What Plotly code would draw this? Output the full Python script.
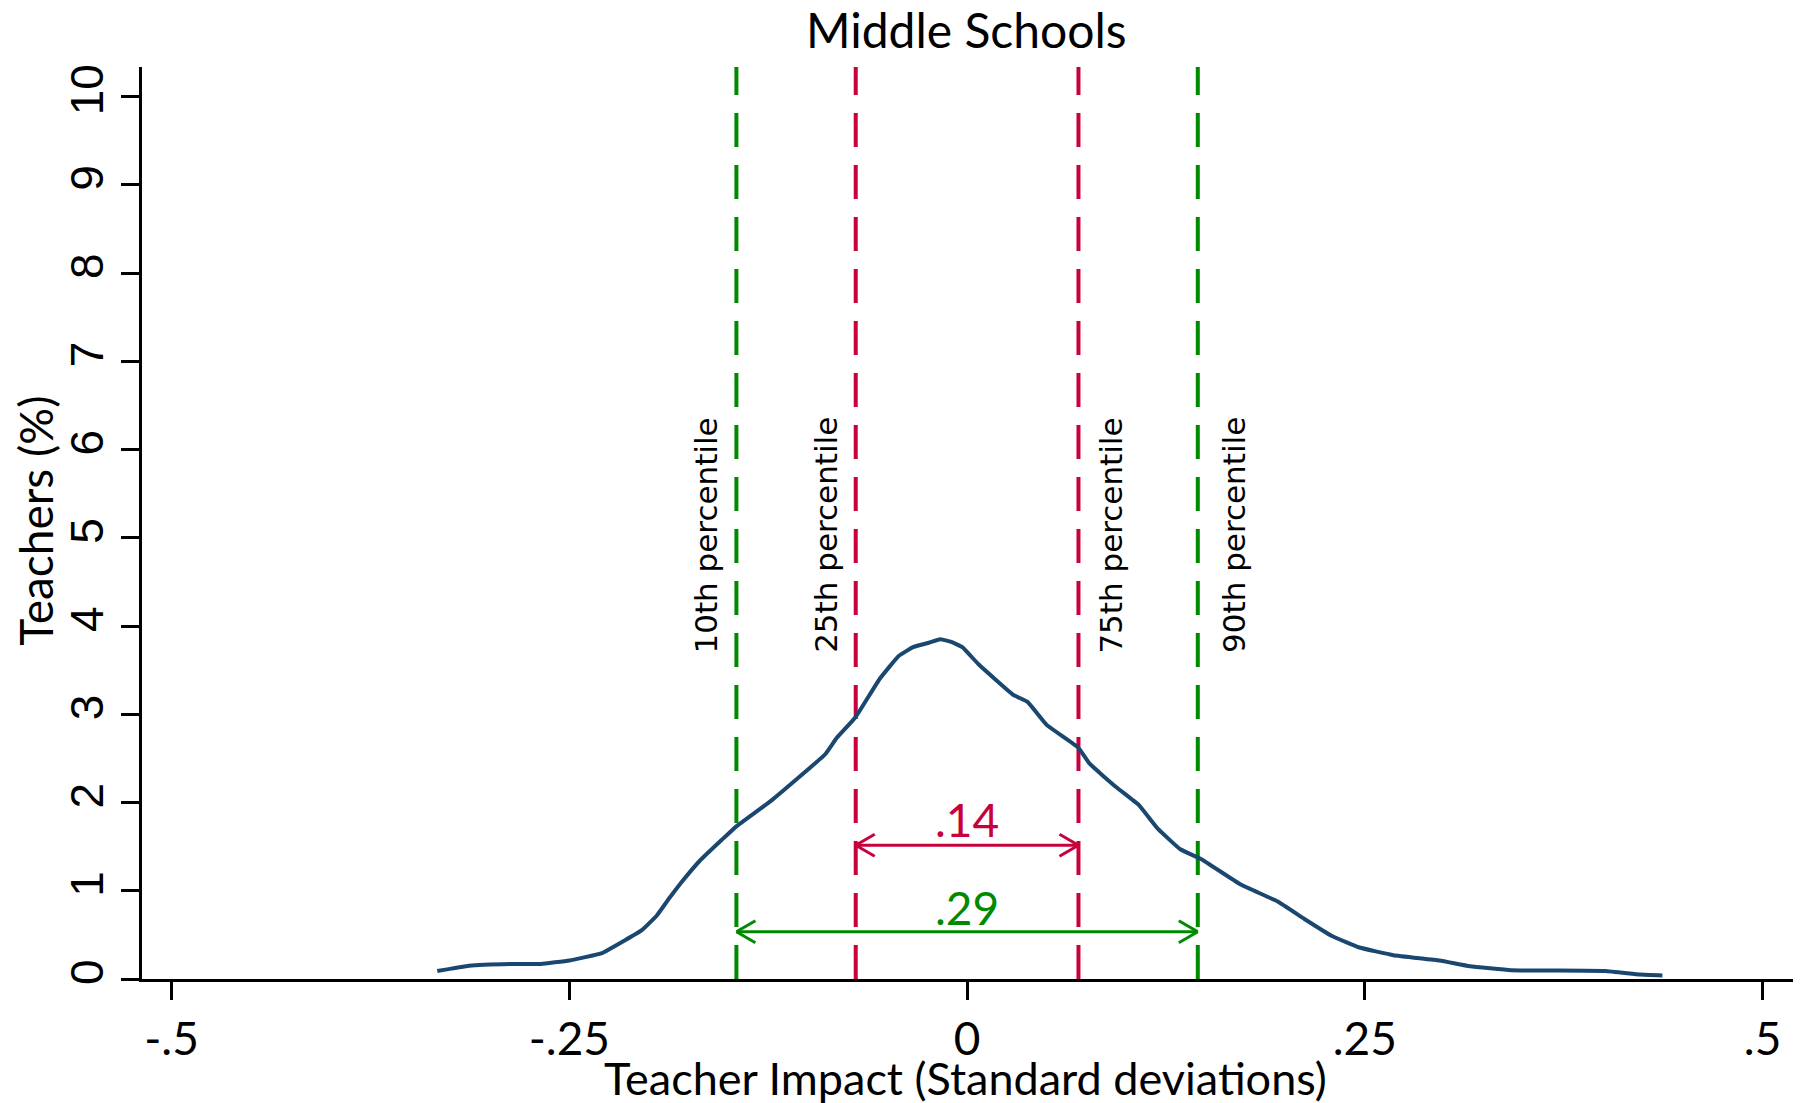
import plotly.graph_objects as go

# Kernel density of teacher impact (percent of teachers)
impact = [-0.333, -0.313, -0.285, -0.268, -0.250, -0.230, -0.215, -0.204, -0.195, -0.187,
          -0.178, -0.168, -0.154, -0.145, -0.1225, -0.089, -0.082, -0.070, -0.055, -0.043,
          -0.034, -0.024, -0.017, -0.010, -0.003, 0.007, 0.029, 0.038, 0.050, 0.070,
          0.077, 0.094, 0.108, 0.120, 0.134, 0.147, 0.172, 0.195, 0.212, 0.229,
          0.246, 0.268, 0.297, 0.316, 0.342, 0.401, 0.423, 0.437]
teachers_pct = [0.09, 0.15, 0.17, 0.17, 0.21, 0.29, 0.44, 0.56, 0.72, 0.92,
                1.13, 1.34, 1.58, 1.73, 2.03, 2.55, 2.73, 2.97, 3.40, 3.66,
                3.76, 3.81, 3.85, 3.82, 3.76, 3.57, 3.22, 3.14, 2.88, 2.62,
                2.44, 2.17, 1.97, 1.70, 1.47, 1.36, 1.07, 0.88, 0.68, 0.49,
                0.36, 0.27, 0.21, 0.145, 0.10, 0.09, 0.05, 0.04]

# Percentile cut points
p10, p25, p75, p90 = -0.145, -0.07, 0.07, 0.145
pct_names = ["10th percentile", "25th percentile", "75th percentile", "90th percentile"]

x_ticks = [-0.5, -0.25, 0, 0.25, 0.5]
x_tick_text = ["-.5", "-.25", "0", ".25", ".5"]
y_ticks = list(range(0, 11))

# Arrow rows (y positions in % units)
iqr_y, d90_y = 1.515, 0.535

NAVY = "#1a476f"
GREEN = "#008a00"
RED = "#c8003c"

W, H = 1801, 1103
ML, MR, MT, MB = 142, 8, 67, 124
XR = [-0.5186, 0.5191]
YR = [0, 10.335]
px_x = (XR[1] - XR[0]) / (W - ML - MR)
px_y = (YR[1] - YR[0]) / (H - MT - MB)
head_dx, head_dy = 19 * px_x, 11 * px_y

fig = go.Figure()
fig.add_trace(go.Scatter(x=impact, y=teachers_pct, mode="lines",
                         line=dict(color=NAVY, width=4, shape="spline", smoothing=0.3),
                         hoverinfo="skip", showlegend=False))

shapes = []
for xv, col in [(p10, GREEN), (p25, RED), (p75, RED), (p90, GREEN)]:
    shapes.append(dict(type="line", xref="x", yref="paper", x0=xv, x1=xv, y0=0, y1=1,
                       line=dict(color=col, width=4, dash="34px,18px"), layer="below"))


def double_arrow(a, b, y, col):
    out = [dict(type="line", xref="x", yref="y", x0=a, x1=b, y0=y, y1=y,
                line=dict(color=col, width=3))]
    for tip, sgn in [(a, 1), (b, -1)]:
        for s in (1, -1):
            out.append(dict(type="line", xref="x", yref="y",
                            x0=tip + sgn * head_dx, y0=y + s * head_dy, x1=tip, y1=y,
                            line=dict(color=col, width=3)))
    return out


shapes += double_arrow(p25, p75, iqr_y, RED)
shapes += double_arrow(p10, p90, d90_y, GREEN)

annotations = []
for xv, name, shift in [(p10, pct_names[0], -30), (p25, pct_names[1], -30),
                        (p75, pct_names[2], 33), (p90, pct_names[3], 36)]:
    annotations.append(dict(x=xv, y=5.03, xref="x", yref="y", text=name, showarrow=False,
                            textangle=-90, xshift=shift, xanchor="center", yanchor="middle",
                            font=dict(family="DejaVu Sans", size=31, color="black")))

annotations.append(dict(x=(p25 + p75) / 2, y=iqr_y + 0.29, xref="x", yref="y",
                        text=f"{p75 - p25:.2f}".lstrip("0"), showarrow=False,
                        xanchor="center", yanchor="middle",
                        font=dict(family="Lato", size=46, color=RED)))
annotations.append(dict(x=(p10 + p90) / 2, y=d90_y + 0.28, xref="x", yref="y",
                        text=f"{p90 - p10:.2f}".lstrip("0"), showarrow=False,
                        xanchor="center", yanchor="middle",
                        font=dict(family="Lato", size=46, color=GREEN)))

# Axis titles and chart title
annotations.append(dict(x=0.4987, y=-0.1085, xref="paper", yref="paper",
                        xanchor="center", yanchor="middle",
                        text="Teacher Impact (Standard deviations)", showarrow=False,
                        font=dict(family="Lato", size=45, color="black")))
annotations.append(dict(x=-0.065, y=0.502, xref="paper", yref="paper",
                        xanchor="center", yanchor="middle",
                        text="Teachers (%)", showarrow=False, textangle=-90,
                        font=dict(family="Lato", size=46, color="black")))
annotations.append(dict(x=0.4994, y=1.0, yshift=38, xref="paper", yref="paper",
                        xanchor="center", yanchor="middle",
                        text="Middle Schools", showarrow=False,
                        font=dict(family="Lato", size=48, color="black")))

fig.update_layout(
    width=W, height=H,
    margin=dict(l=ML, r=MR, t=MT, b=MB),
    paper_bgcolor="white", plot_bgcolor="white",
    shapes=shapes, annotations=annotations,
    xaxis=dict(range=XR, tickvals=x_ticks, ticktext=x_tick_text,
               showgrid=False, zeroline=False, showline=True, linecolor="black", linewidth=3,
               ticks="outside", ticklen=18, tickwidth=3, tickcolor="black",
               tickfont=dict(family="Lato", size=46, color="black")),
    yaxis=dict(range=YR, tickvals=y_ticks, tickangle=-90,
               showgrid=False, zeroline=False, showline=True, linecolor="black", linewidth=3,
               ticks="outside", ticklen=18, tickwidth=3, tickcolor="black",
               tickfont=dict(family="Liberation Sans", size=46, color="black")),
)

fig.write_html("out.html")
